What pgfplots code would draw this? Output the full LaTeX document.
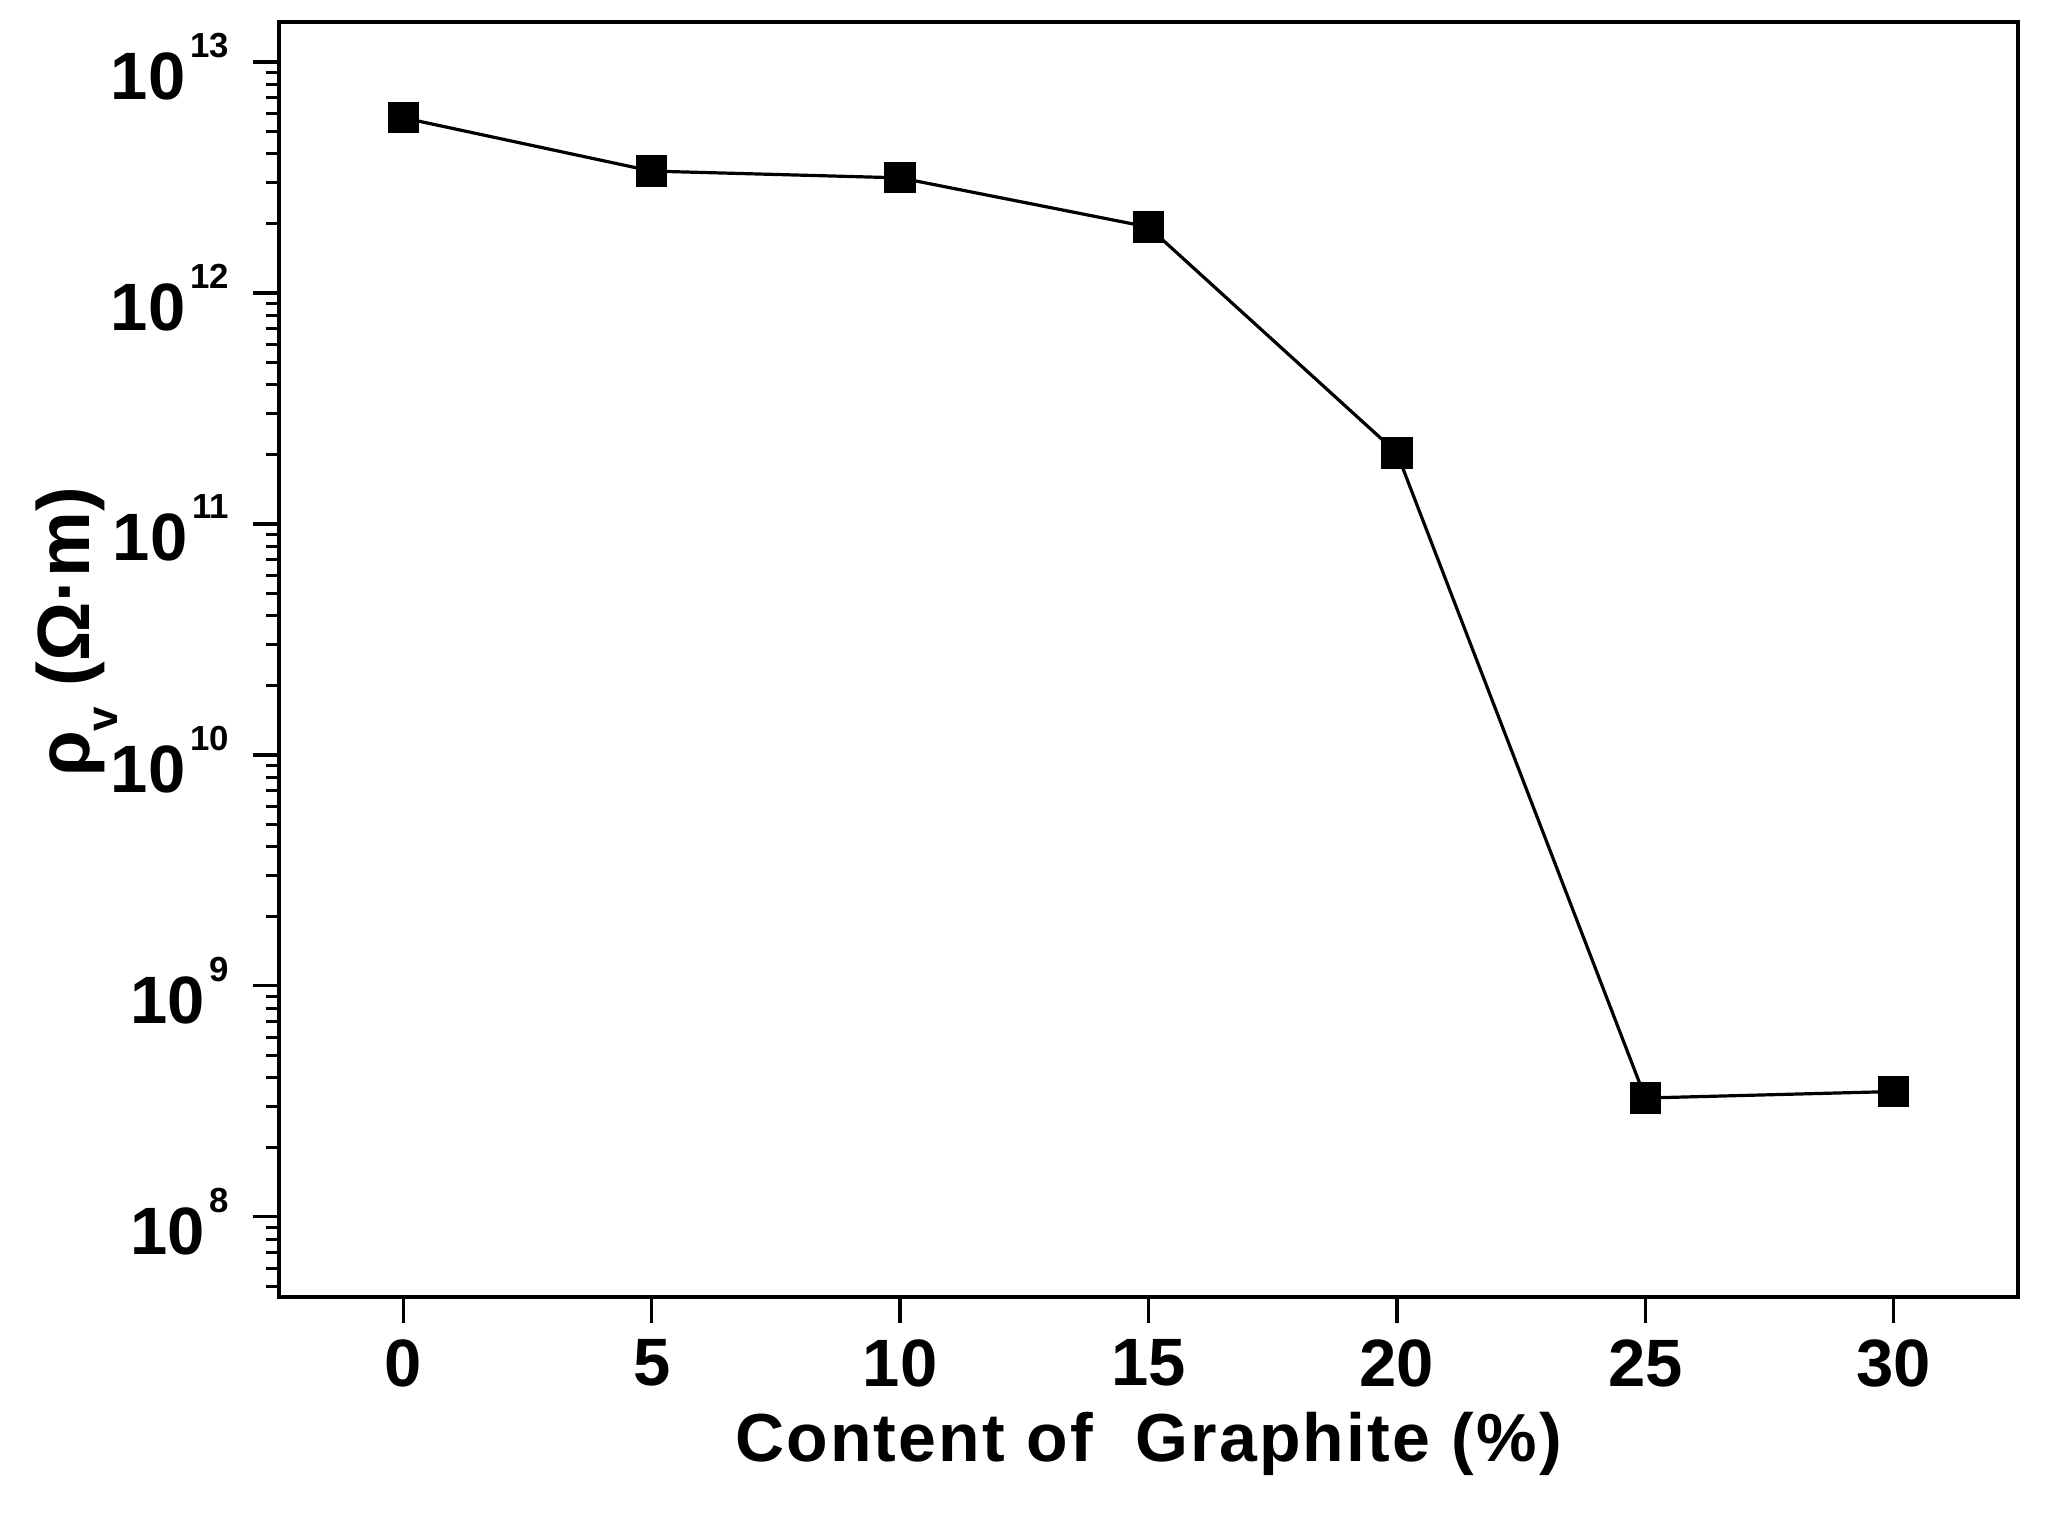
\documentclass[border=0pt]{standalone}
\usepackage{fontspec}
\setmainfont{Liberation Sans}
\usepackage{pgfplots}
\pgfplotsset{compat=1.18}
\newcommand\pw[1]{10\kern1.2pt\raisebox{10.5pt}{\fontsize{8.7}{9}\selectfont #1}}
\begin{document}
\begin{tikzpicture}
\useasboundingbox (-69.75pt,-54pt) rectangle (442.25pt,324.25pt);
\begin{axis}[
  at={(0,0)}, anchor=south west,
  scale only axis, width=434.75pt, height=318.75pt,
  xmin=-2.5, xmax=32.5,
  ymode=log, ymin=4.5e7, ymax=1.49e13,
  xtick={0,5,10,15,20,25,30},
  ytick={1e8,1e9,1e10,1e11,1e12,1e13},
  yticklabels={\pw{8},\pw{9},\pw{10},\pw{11},\pw{12},\pw{13}},
  minor ytick={5e7,6e7,7e7,8e7,9e7,
    2e8,3e8,4e8,5e8,6e8,7e8,8e8,9e8,
    2e9,3e9,4e9,5e9,6e9,7e9,8e9,9e9,
    2e10,3e10,4e10,5e10,6e10,7e10,8e10,9e10,
    2e11,3e11,4e11,5e11,6e11,7e11,8e11,9e11,
    2e12,3e12,4e12,5e12,6e12,7e12,8e12,9e12},
  xtick pos=bottom, ytick pos=left, tick align=outside,
  major tick length=6.5pt, minor tick length=3.25pt,
  every tick/.style={black, line width=0.8pt},
  axis line style={line width=1.1pt},
  /pgf/number format/assume math mode=true,
  ticklabel style={font=\fontsize{16.75}{18}\selectfont\bfseries},
  yticklabel style={yshift=-1.1pt, xshift=-2.5pt},
  xticklabel style={yshift=-0.7pt},
  xlabel={\addfontfeature{LetterSpace=3.3}Content of\ \ Graphite (\%)},
  xlabel style={font=\fontsize{17}{18}\selectfont\bfseries, at={(axis description cs:0.5,0)}, anchor=base, yshift=-41.25pt},
  ylabel={ρ\raisebox{-7pt}{\fontsize{11}{11}\selectfont v} (Ω·m)},
  ylabel style={font=\fontsize{18.5}{19}\selectfont\bfseries, at={(axis description cs:-0.0926,0.5216)}, anchor=south, inner sep=0pt},
]
\addplot[black, line width=0.8pt, mark=square*, mark size=3.5pt, mark options={solid, fill=black}]
  coordinates {(0,5.73e12) (5,3.37e12) (10,3.15e12) (15,1.93e12) (20,2.03e11) (25,3.27e8) (30,3.49e8)};
\end{axis}
\end{tikzpicture}
\end{document}
